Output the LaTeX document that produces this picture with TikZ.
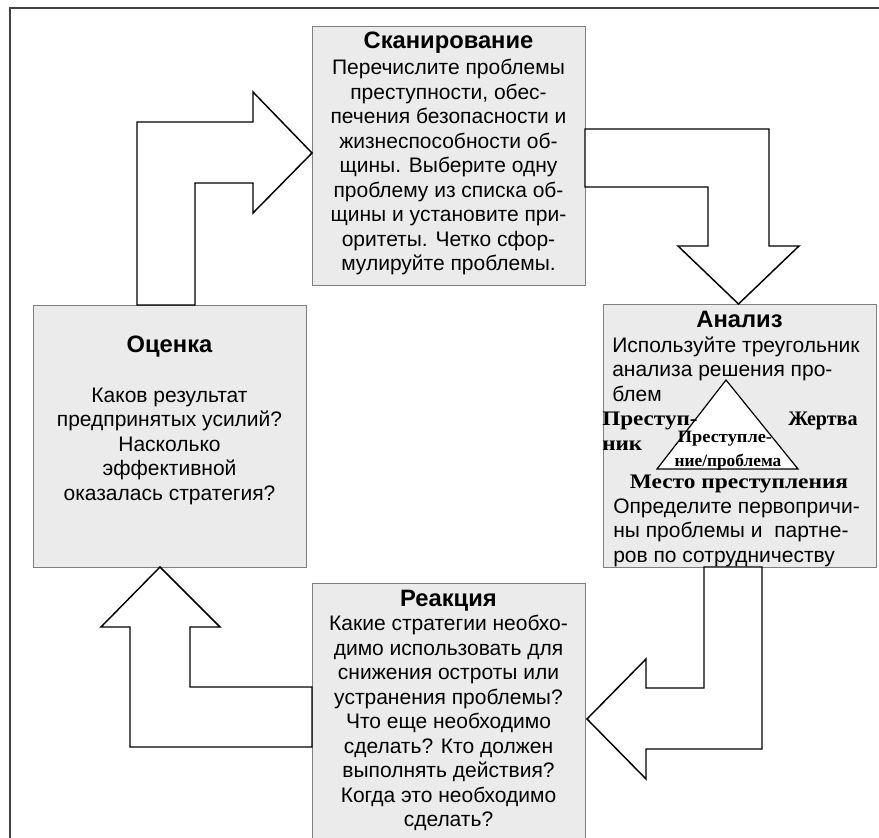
\documentclass[tikz,border=0pt]{standalone}
\usepackage{graphicx}
\usepackage{fontspec}
\setmainfont{Liberation Sans}
\newfontfamily\timesf{Liberation Serif}
\definecolor{boxfill}{HTML}{EBEBEB}
\definecolor{boxline}{HTML}{7F7F7F}
\definecolor{framec}{HTML}{404040}
\begin{document}
\begin{tikzpicture}[x=0.75pt,y=-0.75pt,
  box/.style={draw=boxline, fill=boxfill, line width=0.8pt, anchor=north west, inner sep=0pt, minimum width=204.75pt},
  barrow/.style={draw=black, fill=white, line width=1.1pt, line join=miter},
  bodytxt/.style={font=\fontsize{15.75}{18.4}\selectfont, inner sep=0pt, anchor=base},
  ttl/.style={font=\fontsize{17.8}{18.4}\selectfont\bfseries, inner sep=0pt, anchor=base},
  tri/.style={font=\timesf\bfseries\fontsize{15.5}{18.75}\selectfont, inner sep=0pt, anchor=base west},
  trismall/.style={font=\timesf\bfseries\fontsize{13}{14}\selectfont, inner sep=0pt, anchor=base}
]
\useasboundingbox (0,0) rectangle (879,838);
\clip (0,0) rectangle (879,838);
\draw[draw=framec, line width=1.5pt] (9.5,8.5) rectangle (900,860);

% boxes
\node[box, minimum height=194.25pt] (scan) at (312,26) {};
\node[box, minimum height=197.25pt] (anal) at (603,304) {};
\node[box, minimum height=196.5pt] (eval) at (33,305) {};
\node[box, minimum height=200.25pt] (react) at (312,583) {};

% block arrows
\draw[barrow] (137,305) -- (137,122) -- (253,122) -- (253,92) -- (312,153) -- (253,213) -- (253,183) -- (195,183) -- (195,305) -- cycle;
\draw[barrow] (585,129) -- (769,129) -- (769,246) -- (799,246) -- (738.5,304) -- (678,246) -- (708,246) -- (708,187) -- (585,187) -- cycle;
\draw[barrow] (762,567) -- (762,749) -- (646,749) -- (646,779) -- (587,719) -- (646,659) -- (646,688) -- (704,688) -- (704,567) -- cycle;
\draw[barrow] (312,687) -- (190,687) -- (190,627) -- (220,627) -- (160,567) -- (101,627) -- (130,627) -- (130,747) -- (312,747) -- cycle;

% Scanning
\node[ttl] (scant) at (448.5,48.5) {Сканирование};
\node[bodytxt] (scanb) at (448.5,74.5) {\begin{tabular}[t]{@{}c@{}}Перечислите проблемы\\
преступности, обес-\\
печения безопасности и\\
жизнеспособности об-\\
щины. Выберите одну\\
проблему из списка об-\\
щины и установите при-\\
оритеты. Четко сфор-\\
мулируйте проблемы.\end{tabular}};

% Analysis
\node[ttl] (analt) at (739.5,328) {Анализ};
\node[bodytxt, anchor=base west] (analb1) at (612,352.3) {\begin{tabular}[t]{@{}l@{}}Используйте треугольник\\
анализа решения про-\\
блем\end{tabular}};
\draw[draw=black, fill=white, line width=0.9pt] (726,380) -- (798,469) -- (657,469) -- cycle;
\node[tri] (offender) at (602,425) {\scalebox{1.12}[1]{Преступ-}};
\node[tri] (offender2) at (602,450) {\scalebox{1.12}[1]{ник}};
\node[tri] (victim) at (788,425) {\scalebox{0.97}[1]{Жертва}};
\node[trismall] (crime1) at (725,442) {\scalebox{1.06}[1]{Преступле-}};
\node[trismall] (crime2) at (728,466) {ние/проблема};
\node[tri, anchor=base] (place) at (739,488.5) {\scalebox{1.13}[1]{Место преступления}};
\node[bodytxt, anchor=base west] (analb2) at (613,513.2) {\begin{tabular}[t]{@{}l@{}}Определите первопричи-\\
ны проблемы и \ партне-\\
ров по сотрудничеству\end{tabular}};

% Evaluation
\node[ttl] (evalt) at (169.5,352) {Оценка};
\node[bodytxt] (evalb) at (169.5,402) {\begin{tabular}[t]{@{}c@{}}Каков результат\\
предпринятых усилий?\\
Насколько\\
эффективной\\
оказалась стратегия?\end{tabular}};

% Reaction
\node[ttl] (reactt) at (448.5,606) {Реакция};
\node[bodytxt] (reactb) at (448.5,630.5) {\begin{tabular}[t]{@{}c@{}}Какие стратегии необхо-\\
димо использовать для\\
снижения остроты или\\
устранения проблемы?\\
Что еще необходимо\\
сделать? Кто должен\\
выполнять действия?\\
Когда это необходимо\\
сделать?\end{tabular}};
\end{tikzpicture}
\end{document}
